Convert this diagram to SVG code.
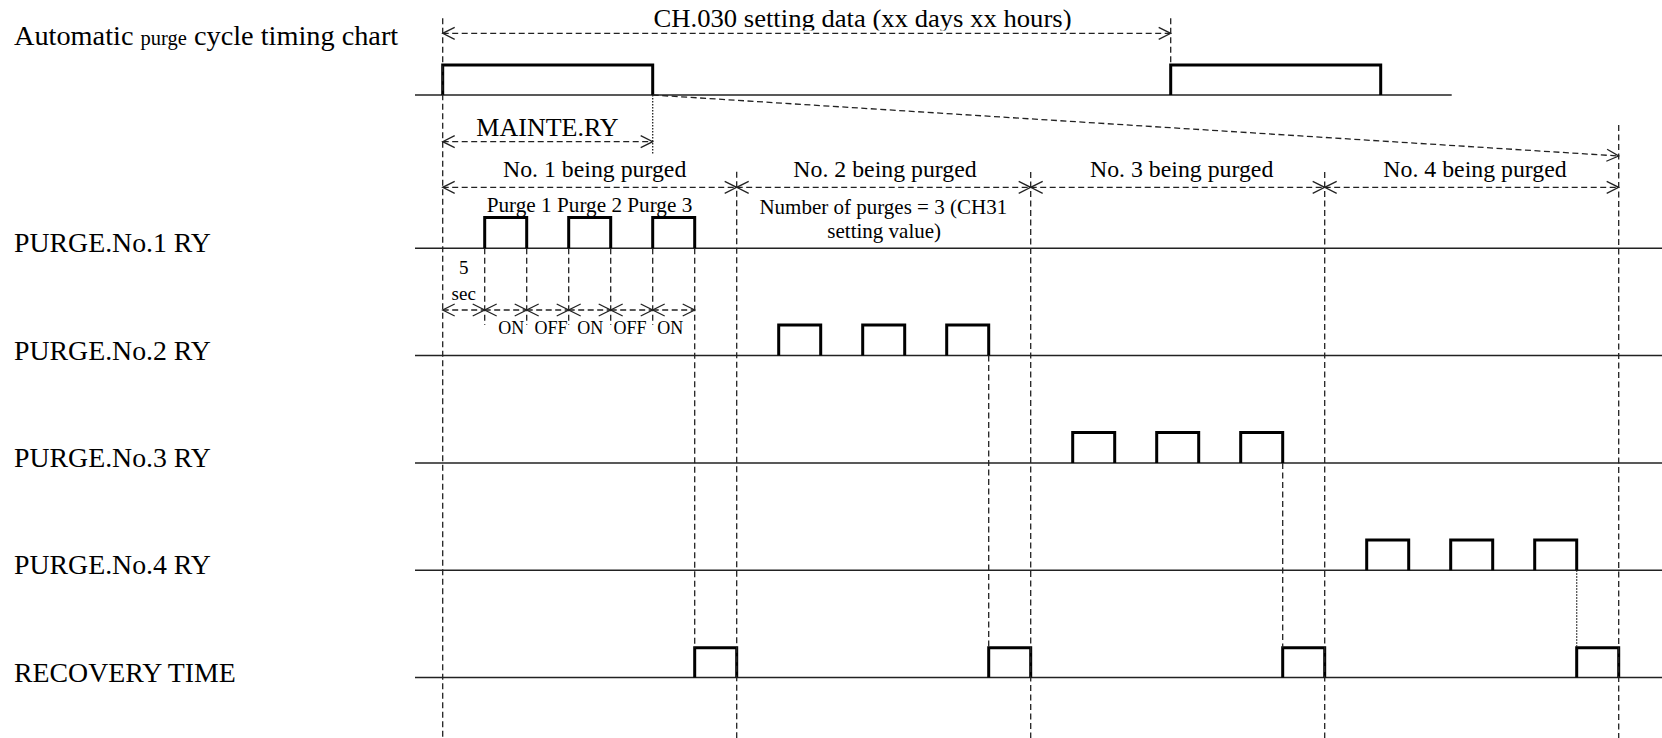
<svg xmlns="http://www.w3.org/2000/svg" width="1662" height="738" viewBox="0 0 1662 738">
<style>
text{font-family:"Liberation Serif","Times New Roman",serif;fill:#000}
.base{stroke:#222;stroke-width:1.5;fill:none}
.pulse{stroke:#000;stroke-width:3;fill:none;stroke-linejoin:miter}
.dash{stroke:#222;stroke-width:1.3;fill:none;stroke-dasharray:6 3.5}
.dot{stroke:#222;stroke-width:1.3;fill:none;stroke-dasharray:1.5 1.5}
.lbl{font-size:27.8px}
</style>
<defs>
<marker id="ah" markerUnits="userSpaceOnUse" markerWidth="16" markerHeight="16" viewBox="-13 -8 16 16" refX="0" refY="0" orient="auto-start-reverse">
<path d="M-12,-6 L0,0 L-12,6" fill="none" stroke="#222" stroke-width="1.3" stroke-dasharray="none"/>
</marker>
<clipPath id="clipTop"><rect x="600" y="0" width="520" height="30.5"/></clipPath>
</defs>

<g id="title">
<text x="14" y="45" style="font-size:28.3px">Automatic <tspan style="font-size:20.5px">purge</tspan> cycle timing chart</text>
</g>

<g id="labels">
<text class="lbl" x="14" y="252.3">PURGE.No.1 RY</text>
<text class="lbl" x="14" y="359.6">PURGE.No.2 RY</text>
<text class="lbl" x="14" y="466.9">PURGE.No.3 RY</text>
<text class="lbl" x="14" y="574.2">PURGE.No.4 RY</text>
<text class="lbl" x="14" y="681.5">RECOVERY TIME</text>
</g>

<g id="signal-cycle">
<line class="base" x1="415" y1="95" x2="1451.7" y2="95"/>
<path class="pulse" d="M442.7,95 V65 H652.7 V95"/>
<path class="pulse" d="M1170.7,95 V65 H1380.7 V95"/>
</g>

<g id="signal-purge1">
<line class="base" x1="415" y1="248.3" x2="1662" y2="248.3"/>
<path class="pulse" d="M484.7,248.3 V217.5 H526.7 V248.3 M568.7,248.3 V217.5 H610.7 V248.3 M652.7,248.3 V217.5 H694.7 V248.3"/>
</g>

<g id="signal-purge2">
<line class="base" x1="415" y1="355.6" x2="1662" y2="355.6"/>
<path class="pulse" d="M778.7,355.6 V325 H820.7 V355.6 M862.7,355.6 V325 H904.7 V355.6 M946.7,355.6 V325 H988.7 V355.6"/>
</g>

<g id="signal-purge3">
<line class="base" x1="415" y1="462.9" x2="1662" y2="462.9"/>
<path class="pulse" d="M1072.7,462.9 V432.4 H1114.7 V462.9 M1156.7,462.9 V432.4 H1198.7 V462.9 M1240.7,462.9 V432.4 H1282.7 V462.9"/>
</g>

<g id="signal-purge4">
<line class="base" x1="415" y1="570.2" x2="1662" y2="570.2"/>
<path class="pulse" d="M1366.7,570.2 V540 H1408.7 V570.2 M1450.7,570.2 V540 H1492.7 V570.2 M1534.7,570.2 V540 H1576.7 V570.2"/>
</g>

<g id="signal-recovery">
<line class="base" x1="415" y1="677.5" x2="1662" y2="677.5"/>
<path class="pulse" d="M694.7,677.5 V647.7 H736.7 V677.5 M988.7,677.5 V647.7 H1030.7 V677.5 M1282.7,677.5 V647.7 H1324.7 V677.5 M1576.7,677.5 V647.7 H1618.7 V677.5"/>
</g>

<g id="annotations">
<text x="862.5" y="27.3" text-anchor="middle" clip-path="url(#clipTop)" style="font-size:25px" textLength="418" lengthAdjust="spacingAndGlyphs">CH.030 setting data (xx days xx hours)</text>
<text x="547.5" y="135.7" text-anchor="middle" style="font-size:26px">MAINTE.RY</text>
<text x="594.7" y="177.3" text-anchor="middle" style="font-size:23.8px">No. 1 being purged</text>
<text x="885" y="177.3" text-anchor="middle" style="font-size:23.8px">No. 2 being purged</text>
<text x="1181.7" y="177.3" text-anchor="middle" style="font-size:23.8px">No. 3 being purged</text>
<text x="1475" y="177.3" text-anchor="middle" style="font-size:23.8px">No. 4 being purged</text>
<text x="486.7" y="211.7" style="font-size:21px" textLength="205.6" lengthAdjust="spacingAndGlyphs">Purge 1 Purge 2 Purge 3</text>
<text x="883.3" y="214" text-anchor="middle" style="font-size:21px">Number of purges = 3 (CH31</text>
<text x="884.2" y="238" text-anchor="middle" style="font-size:21px">setting value)</text>
<text x="463.7" y="274.3" text-anchor="middle" style="font-size:19px">5</text>
<text x="463.7" y="300" text-anchor="middle" style="font-size:19px">sec</text>
<text x="511.3" y="334" text-anchor="middle" style="font-size:18px">ON</text>
<text x="551" y="334" text-anchor="middle" style="font-size:18px">OFF</text>
<text x="590.3" y="334" text-anchor="middle" style="font-size:18px">ON</text>
<text x="630" y="334" text-anchor="middle" style="font-size:18px">OFF</text>
<text x="670.3" y="334" text-anchor="middle" style="font-size:18px">ON</text>
</g>

<g id="connectors">
<line class="dash" x1="442.7" y1="18.3" x2="442.7" y2="738"/>
<line class="dash" x1="1170.7" y1="18.3" x2="1170.7" y2="65"/>
<line class="dash" x1="736.7" y1="171.7" x2="736.7" y2="738"/>
<line class="dash" x1="1030.7" y1="172" x2="1030.7" y2="738"/>
<line class="dash" x1="1324.7" y1="172" x2="1324.7" y2="738"/>
<line class="dash" x1="1618.7" y1="125" x2="1618.7" y2="738"/>
<line class="dot" x1="652.7" y1="95" x2="652.7" y2="155"/>
<line class="dash" x1="484.7" y1="248.3" x2="484.7" y2="325"/>
<line class="dash" x1="526.7" y1="248.3" x2="526.7" y2="325"/>
<line class="dash" x1="568.7" y1="248.3" x2="568.7" y2="325"/>
<line class="dash" x1="610.7" y1="248.3" x2="610.7" y2="325"/>
<line class="dash" x1="652.7" y1="248.3" x2="652.7" y2="325"/>
<line class="dash" x1="694.7" y1="248.3" x2="694.7" y2="647.7"/>
<line class="dash" x1="988.7" y1="355.6" x2="988.7" y2="647.7"/>
<line class="dash" x1="1282.7" y1="462.9" x2="1282.7" y2="647.7"/>
<line class="dot" x1="1576.7" y1="570.2" x2="1576.7" y2="647.7"/>
<line class="dash" x1="442.7" y1="33.3" x2="1170.7" y2="33.3" marker-start="url(#ah)" marker-end="url(#ah)"/>
<line class="dash" x1="652.7" y1="95" x2="1618.7" y2="156" marker-end="url(#ah)"/>
<line class="dash" x1="442.7" y1="141.7" x2="652.7" y2="141.7" marker-start="url(#ah)" marker-end="url(#ah)"/>
<line class="dash" x1="442.7" y1="187.3" x2="736.7" y2="187.3" marker-start="url(#ah)" marker-end="url(#ah)"/>
<line class="dash" x1="736.7" y1="187.3" x2="1030.7" y2="187.3" marker-start="url(#ah)" marker-end="url(#ah)"/>
<line class="dash" x1="1030.7" y1="187.3" x2="1324.7" y2="187.3" marker-start="url(#ah)" marker-end="url(#ah)"/>
<line class="dash" x1="1324.7" y1="187.3" x2="1618.7" y2="187.3" marker-start="url(#ah)" marker-end="url(#ah)"/>
<line class="dash" x1="442.7" y1="310" x2="484.7" y2="310" marker-start="url(#ah)" marker-end="url(#ah)"/>
<line class="dash" x1="484.7" y1="310" x2="526.7" y2="310" marker-start="url(#ah)" marker-end="url(#ah)"/>
<line class="dash" x1="526.7" y1="310" x2="568.7" y2="310" marker-start="url(#ah)" marker-end="url(#ah)"/>
<line class="dash" x1="568.7" y1="310" x2="610.7" y2="310" marker-start="url(#ah)" marker-end="url(#ah)"/>
<line class="dash" x1="610.7" y1="310" x2="652.7" y2="310" marker-start="url(#ah)" marker-end="url(#ah)"/>
<line class="dash" x1="652.7" y1="310" x2="694.7" y2="310" marker-start="url(#ah)" marker-end="url(#ah)"/>
</g>
</svg>
